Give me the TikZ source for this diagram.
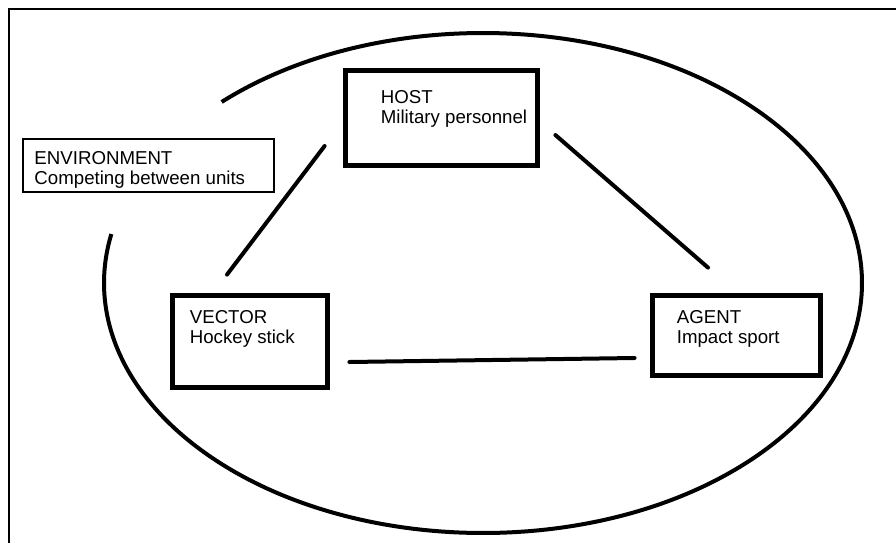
\documentclass[tikz,border=0pt]{standalone}
\usepackage{fontspec}
\setmainfont{Liberation Sans}

\tikzset{
  box/.style={draw, line width=3.6pt, inner sep=0pt},
  envbox/.style={draw, line width=1.2pt, inner sep=0pt},
  txt/.style={align=left, inner sep=0pt, anchor=north west, font=\fontsize{14}{15}\selectfont},
  link/.style={line width=3pt, line cap=round},
  ring/.style={line width=3pt},
}

\begin{document}
\begin{tikzpicture}[x=0.75pt, y=-0.75pt]
  \useasboundingbox (0,0) rectangle (896,543);
  % Frame
  \draw [line width=1.5pt] (9,543) -- (9,9) -- (896,9);

  % Environment ring
  \coordinate (c) at (483,283);
  \draw [ring] ([shift={(226.4:379 and 250)}]c) arc [start angle=226.4, end angle=551.3, x radius=379, y radius=250];

  % Boxes
  \node [box, minimum width=144pt, minimum height=71.25pt] (host) at (441.5,118) {};
  \node [box, minimum width=116.25pt, minimum height=69pt] (vector) at (250,341.5) {};
  \node [box, minimum width=126pt, minimum height=60pt] (agent) at (736.5,335.5) {};
  \node [envbox, minimum width=188.25pt, minimum height=39.75pt] (env) at (148.5,165.5) {};

  % Labels
  \node [txt] (hosttxt) at ([shift={(37.5,22.5)}]host.north west) {HOST\\Military personnel};
  \node [txt] (vectortxt) at ([shift={(19.5,17.5)}]vector.north west) {VECTOR\\Hockey stick};
  \node [txt] (agenttxt) at ([shift={(26.5,17.5)}]agent.north west) {AGENT\\Impact sport};
  \node [txt] (envtxt) at ([shift={(12,13)}]env.north west) {ENVIRONMENT\\Competing between units};

  % Links
  \draw [link] ([shift={(-18.5,28)}]host.west) -- ([shift={(-23,-18.5)}]vector.north);
  \draw [link] ([shift={(15.5,17)}]host.east) -- ([shift={(-28.5,-25.5)}]agent.north);
  \draw [link] ([shift={(19.5,20.5)}]vector.east) -- ([shift={(-15.5,22.5)}]agent.west);
\end{tikzpicture}
\end{document}
